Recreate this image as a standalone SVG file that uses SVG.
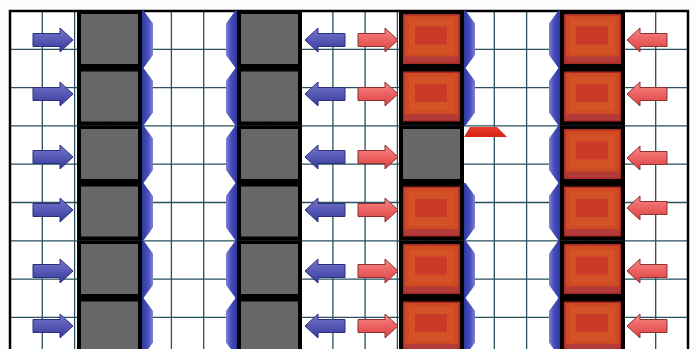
<svg xmlns="http://www.w3.org/2000/svg" xmlns:xlink="http://www.w3.org/1999/xlink" width="696" height="349" viewBox="0 0 696 349">
<defs>
<style>
.grid{stroke:#28505f;stroke-width:1.3;fill:none}
.frame{stroke:#000;stroke-width:2.5;fill:none}
.blk{fill:#000}
.gray{fill:#676767}
.barr{fill:url(#gBlue);stroke:#2c2f7c;stroke-width:1}
.rarr{fill:url(#gRed);stroke:#8e3030;stroke-width:1}
.band{fill:url(#gBand)}
</style>
<linearGradient id="gBlue" x1="0" y1="0" x2="0" y2="1">
<stop offset="0" stop-color="#7676c8"/>
<stop offset="0.45" stop-color="#5a5cb8"/>
<stop offset="1" stop-color="#34389a"/>
</linearGradient>
<linearGradient id="gRed" x1="0" y1="0" x2="0" y2="1">
<stop offset="0" stop-color="#f48a86"/>
<stop offset="0.5" stop-color="#ec6262"/>
<stop offset="1" stop-color="#d84444"/>
</linearGradient>
<linearGradient id="gBand" x1="0" y1="0" x2="1" y2="0">
<stop offset="0" stop-color="#2f36a0"/>
<stop offset="0.6" stop-color="#4a52bc"/>
<stop offset="1" stop-color="#8484d4"/>
</linearGradient>
<linearGradient id="gTrap" x1="0" y1="0" x2="0" y2="1">
<stop offset="0" stop-color="#ea3a26"/>
<stop offset="1" stop-color="#d42418"/>
</linearGradient>
<path id="arrowR" d="M0,-6.5 H27 V-12 L40,0 L27,12 V6.5 H0 Z"/>
<path id="seg" d="M0,0 H1.5 L11,13 V44.5 L1.5,57.5 H0 Z"/>
<g id="grayBlock">
<rect class="blk" x="0" y="0" width="65" height="57.5"/>
<rect class="gray" x="4" y="3.5" width="57" height="50"/>
</g>
<g id="redBlock">
<rect class="blk" x="0" y="0" width="65" height="57.5"/>
<rect x="4" y="3.5" width="57" height="50" fill="#a92a26"/>
<rect x="5.5" y="5" width="54" height="44" fill="#cf4a22"/>
<rect x="10" y="9" width="45" height="34" fill="#d65a2c" opacity="0.6"/>
<rect x="16" y="16" width="32" height="18" fill="#c93a28"/>
<rect x="5.5" y="46" width="54" height="6" fill="#b23a38"/>
</g>
</defs>
<rect x="0" y="0" width="696" height="349" fill="#fdfdfd"/>
<rect x="10" y="11" width="678" height="340" fill="#ffffff"/>
<g id="grid">
<path class="grid" d="M42.3,11V349M74.6,11V349M106.9,11V349M139.1,11V349M171.4,11V349M203.7,11V349M236,11V349M268.3,11V349M300.6,11V349M332.9,11V349M365.1,11V349M397.4,11V349M429.7,11V349M462,11V349M494.3,11V349M526.6,11V349M558.9,11V349M591.1,11V349M623.4,11V349M655.7,11V349"/>
<path class="grid" d="M10,49.3H688M10,87.6H688M10,125.9H688M10,164.2H688M10,202.5H688M10,240.8H688M10,279.1H688M10,317.4H688"/>
<path class="frame" d="M10,352V11H688V352"/>
</g>
<g id="bands">
<use href="#seg" class="band" x="142" y="10.5"/>
<use href="#seg" class="band" x="142" y="68"/>
<use href="#seg" class="band" x="142" y="125.5"/>
<use href="#seg" class="band" x="142" y="183"/>
<use href="#seg" class="band" x="142" y="240.5"/>
<use href="#seg" class="band" x="142" y="298"/>
<g transform="translate(237,0) scale(-1,1)">
<use href="#seg" class="band" y="10.5"/>
<use href="#seg" class="band" y="68"/>
<use href="#seg" class="band" y="125.5"/>
<use href="#seg" class="band" y="183"/>
<use href="#seg" class="band" y="240.5"/>
<use href="#seg" class="band" y="298"/>
</g>
<use href="#seg" class="band" x="464" y="10.5"/>
<use href="#seg" class="band" x="464" y="68"/>
<use href="#seg" class="band" x="464" y="183"/>
<use href="#seg" class="band" x="464" y="240.5"/>
<use href="#seg" class="band" x="464" y="298"/>
<g transform="translate(560,0) scale(-1,1)">
<use href="#seg" class="band" y="10.5"/>
<use href="#seg" class="band" y="68"/>
<use href="#seg" class="band" y="125.5"/>
<use href="#seg" class="band" y="183"/>
<use href="#seg" class="band" y="240.5"/>
<use href="#seg" class="band" y="298"/>
</g>
<polygon id="trapezoid" points="470,127 497,127 507,137 464,137" fill="url(#gTrap)"/>
</g>
<g id="col1">
<use id="b1-1" href="#grayBlock" x="77" y="10.5"/>
<use id="b1-2" href="#grayBlock" x="77" y="68"/>
<use id="b1-3" href="#grayBlock" x="77" y="125.5"/>
<use id="b1-4" href="#grayBlock" x="77" y="183"/>
<use id="b1-5" href="#grayBlock" x="77" y="240.5"/>
<use id="b1-6" href="#grayBlock" x="77" y="298"/>
</g>
<g id="col2">
<use id="b2-1" href="#grayBlock" x="237" y="10.5"/>
<use id="b2-2" href="#grayBlock" x="237" y="68"/>
<use id="b2-3" href="#grayBlock" x="237" y="125.5"/>
<use id="b2-4" href="#grayBlock" x="237" y="183"/>
<use id="b2-5" href="#grayBlock" x="237" y="240.5"/>
<use id="b2-6" href="#grayBlock" x="237" y="298"/>
</g>
<g id="col3">
<use id="b3-1" href="#redBlock" x="399" y="10.5"/>
<use id="b3-2" href="#redBlock" x="399" y="68"/>
<use id="b3-3" href="#grayBlock" x="399" y="125.5"/>
<use id="b3-4" href="#redBlock" x="399" y="183"/>
<use id="b3-5" href="#redBlock" x="399" y="240.5"/>
<use id="b3-6" href="#redBlock" x="399" y="298"/>
</g>
<g id="col4">
<use id="b4-1" href="#redBlock" x="560" y="10.5"/>
<use id="b4-2" href="#redBlock" x="560" y="68"/>
<use id="b4-3" href="#redBlock" x="560" y="125.5"/>
<use id="b4-4" href="#redBlock" x="560" y="183"/>
<use id="b4-5" href="#redBlock" x="560" y="240.5"/>
<use id="b4-6" href="#redBlock" x="560" y="298"/>
</g>
<g id="connectors">
<g id="blueRight">
<use href="#arrowR" class="barr" x="33" y="40"/>
<use href="#arrowR" class="barr" x="33" y="94"/>
<use href="#arrowR" class="barr" x="33" y="157"/>
<use href="#arrowR" class="barr" x="33" y="210"/>
<use href="#arrowR" class="barr" x="33" y="271"/>
<use href="#arrowR" class="barr" x="33" y="326"/>
</g>
<g id="blueLeft" transform="translate(650,0) scale(-1,1)">
<use href="#arrowR" class="barr" x="305" y="40"/>
<use href="#arrowR" class="barr" x="305" y="94"/>
<use href="#arrowR" class="barr" x="305" y="157"/>
<use href="#arrowR" class="barr" x="305" y="210"/>
<use href="#arrowR" class="barr" x="305" y="271"/>
<use href="#arrowR" class="barr" x="305" y="326"/>
</g>
<g id="redRight">
<use href="#arrowR" class="rarr" x="358" y="40"/>
<use href="#arrowR" class="rarr" x="358" y="94"/>
<use href="#arrowR" class="rarr" x="358" y="157"/>
<use href="#arrowR" class="rarr" x="358" y="210"/>
<use href="#arrowR" class="rarr" x="358" y="271"/>
<use href="#arrowR" class="rarr" x="358" y="326"/>
</g>
<g id="redLeft" transform="translate(1295,0) scale(-1,1)">
<use href="#arrowR" class="rarr" x="628" y="40"/>
<use href="#arrowR" class="rarr" x="628" y="94"/>
<use href="#arrowR" class="rarr" x="628" y="158"/>
<use href="#arrowR" class="rarr" x="628" y="208"/>
<use href="#arrowR" class="rarr" x="628" y="271"/>
<use href="#arrowR" class="rarr" x="628" y="326"/>
</g>
</g>
</svg>
